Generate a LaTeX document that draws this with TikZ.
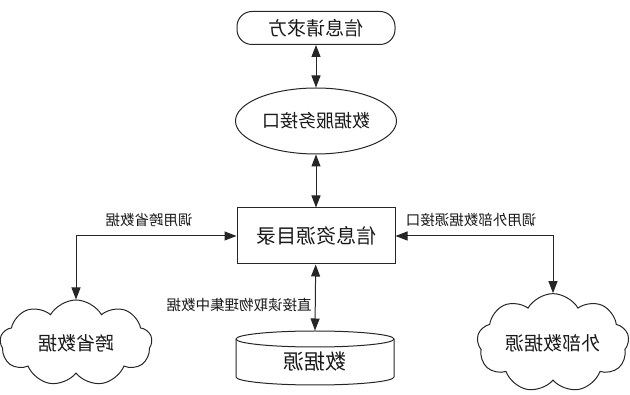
\documentclass[tikz,border=0pt]{standalone}
\usepackage{fontspec}
\usepackage{graphicx}
\newfontfamily\cjk{Noto Sans CJK SC}
\usetikzlibrary{shapes.geometric,shapes.symbols,arrows.meta}
\begin{document}
\begin{tikzpicture}[x=1pt,y=-1pt,
  line width=1pt, draw=black!85,
  every node/.style={font=\cjk\fontsize{19}{22}\selectfont, text=black!90},
  lbl/.style={font=\cjk\fontsize{14.5}{16}\selectfont, inner sep=0},
  arr/.style={{Triangle[length=12pt,width=9pt]}-{Triangle[length=12pt,width=9pt]}},
  boxnode/.style={draw, minimum width=158pt, inner sep=0},
  cloudnode/.style={draw, cloud, cloud puffs=9, cloud puff arc=120, aspect=1.75,
     minimum width=152pt, minimum height=86pt, inner sep=0}
]
\useasboundingbox (0,0) rectangle (630,395);

\node[boxnode, rounded corners=15pt, minimum height=33pt] (req) at (316,28) {\reflectbox{信息请求方}};
\node[draw, ellipse, minimum width=161pt, minimum height=66pt, inner sep=0,
      font=\cjk\fontsize{18}{20}\selectfont] (api) at (316,121) {\reflectbox{数据服务接口}};
\node[boxnode, minimum height=56pt, font=\cjk\fontsize{20}{22}\selectfont] (dir) at (316,236) {\reflectbox{信息资源目录}};
\node[minimum width=158pt, minimum height=54pt, inner sep=0] (ds) at (315,358) {};
\node[font=\cjk\fontsize{21}{24}\selectfont, inner sep=0] (dst) at (315,362) {\reflectbox{数据源}};
\coordinate (dtl) at (236,339);
\coordinate (dbl) at (236,377);
\coordinate (dtr) at (394,339);
\draw (dtl) arc[start angle=180, end angle=-180, x radius=79pt, y radius=8pt];
\draw (dtl) -- (dbl) arc[start angle=180, end angle=360, x radius=79pt, y radius=8pt] -- (dtr);

\node[cloudnode] (c1) at (76,343) {\reflectbox{跨省数据}};
\node[cloudnode] (c2) at (553,343) {\reflectbox{外部数据源}};

\draw[arr] (req) -- (api);
\draw[arr] (api) -- (dir);
\draw[arr] (dir) -- (ds.north);
\draw[arr] (dir.west) -| (c1.north);
\draw[arr] (dir.east) -| (c2.north);

\node[lbl] (l1) at (149,220) {\reflectbox{调用跨省数据}};
\node[lbl] (l2) at (471,220) {\reflectbox{调用外部数据源接口}};
\node[lbl] (l3) at (239,305) {\reflectbox{直接读取物理集中数据}};
\end{tikzpicture}
\end{document}
